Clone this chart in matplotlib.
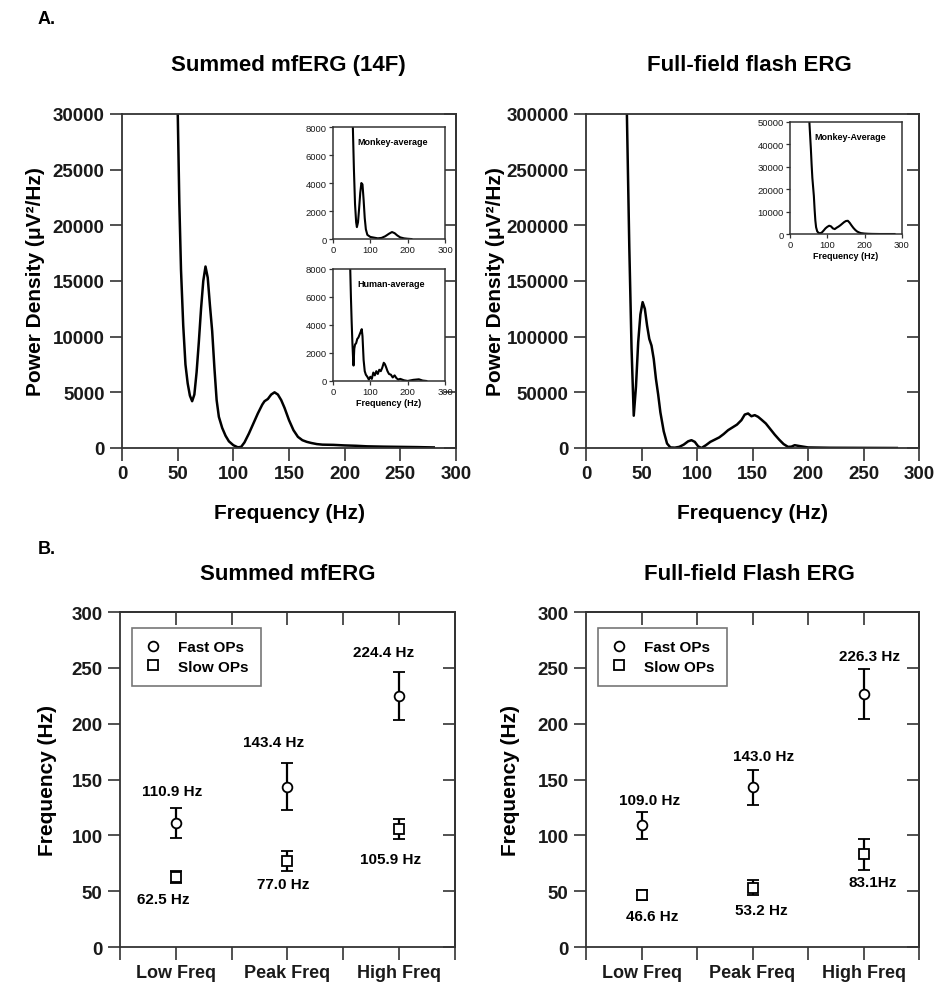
import matplotlib
matplotlib.use("Agg")
import matplotlib.pyplot as plt
from matplotlib.lines import Line2D

plt.rcParams['font.family'] = ['Liberation Sans', 'DejaVu Sans']
plt.rcParams['font.weight'] = 'bold'
plt.rcParams['axes.labelweight'] = 'bold'

# --- panel A: power spectra ---
mf_freq = [48, 50, 51.5, 53, 55, 57, 59, 61, 63, 65, 67, 69, 71, 73, 75, 77, 79, 81, 83, 85, 87, 90,
           93, 96, 100, 104, 107, 110, 114, 118, 122, 126, 128, 131, 134, 137, 140, 143, 146, 150,
           154, 158, 162, 166, 170, 175, 180, 190, 200, 210, 220, 235, 250, 265, 280]
mf_power = [45000, 30500, 22000, 16000, 11000, 7500, 5800, 4700, 4200, 4800, 6800, 9500, 12500, 15000,
            16300, 15300, 12800, 10500, 7200, 4300, 2800, 1800, 1100, 600, 250, 60, 100, 500, 1300,
            2200, 3100, 3900, 4200, 4400, 4800, 5000, 4800, 4300, 3600, 2500, 1600, 1000, 700, 550,
            450, 350, 300, 280, 230, 200, 150, 120, 100, 80, 50]

ff_freq = [35, 36.5, 37, 39, 41, 43, 45, 47, 49, 51, 53, 55, 57, 59, 61, 63, 65, 67, 70, 73, 76, 80,
           84, 88, 92, 95, 98, 101, 104, 108, 112, 116, 120, 124, 128, 132, 136, 140, 143, 146, 149,
           152, 155, 158, 162, 166, 170, 174, 178, 182, 185, 188, 192, 200, 220, 250, 280]
ff_power = [400000, 320000, 290000, 180000, 90000, 29000, 55000, 95000, 120000, 131000, 125000, 110000,
            98000, 92000, 80000, 62000, 48000, 32000, 15000, 4000, 500, 300, 1000, 3000, 6000, 7000,
            5500, 1500, 0, 2500, 5500, 7500, 9500, 12500, 16000, 18500, 21000, 25000, 30000, 31000,
            28500, 29500, 28000, 25500, 22000, 17000, 12000, 7500, 3500, 1000, 1200, 2500, 1800, 500,
            200, 100, 0]

mk_freq = [50, 53, 56, 59, 62, 64, 67, 70, 73, 76, 79, 82, 85, 88, 92, 100, 110, 120, 130, 140, 150,
           158, 165, 172, 180, 190, 200, 210]
mk_power = [12000, 8200, 5000, 2500, 1200, 850, 1200, 2200, 3300, 4000, 3900, 2800, 1500, 700, 300,
            150, 100, 50, 80, 200, 380, 500, 420, 260, 120, 50, 20, 0]

hu_freq = [44, 46, 48, 50, 52, 54, 55, 57, 59, 62, 65, 68, 71, 74, 77, 79, 82, 85, 88, 92, 96, 100,
           104, 108, 112, 116, 120, 124, 128, 132, 136, 139, 142, 146, 150, 155, 160, 165, 170, 175,
           180, 190, 200, 215, 230, 240, 250]
hu_power = [12000, 8200, 6000, 4200, 2700, 1500, 1100, 2300, 2600, 2700, 3000, 3100, 3300, 3500, 3700,
            3200, 1500, 700, 450, 300, 100, 300, 150, 600, 400, 700, 500, 800, 700, 950, 1300, 1200,
            1000, 700, 500, 450, 250, 400, 200, 100, 150, 50, 0, 80, 120, 30, 0]

fm_freq = [50, 52, 54, 56, 58, 60, 62, 64, 66, 68, 70, 73, 76, 80, 85, 90, 95, 100, 105, 110, 115,
           120, 125, 130, 135, 140, 145, 150, 155, 160, 165, 170, 175, 180, 185, 190, 200, 210, 220,
           240, 260, 280]
fm_power = [60000, 50000, 44000, 38000, 31000, 25000, 21000, 17000, 11000, 6000, 3000, 1200, 600, 300,
            600, 1500, 2500, 3200, 3700, 3400, 2500, 2200, 2800, 3300, 3900, 4600, 5300, 5800, 5900,
            5000, 3800, 2700, 1800, 1100, 700, 400, 200, 100, 50, 0, 0, 0]

# --- panel B: OP frequencies ---
categories = ['Low Freq', 'Peak Freq', 'High Freq']
mf_fast = [110.9, 143.4, 224.4]
mf_fast_err = [13.5, 21, 21.5]
mf_slow = [62.5, 77.0, 105.9]
mf_slow_err = [5.5, 9, 9]
ff_fast = [109.0, 143.0, 226.3]
ff_fast_err = [12, 15.5, 22.5]
ff_slow = [46.6, 53.2, 83.1]
ff_slow_err = [4.5, 7, 14]
mf_fast_lbl = ['110.9 Hz', '143.4 Hz', '224.4 Hz']
mf_slow_lbl = ['62.5 Hz', '77.0 Hz', '105.9 Hz']
ff_fast_lbl = ['109.0 Hz', '143.0 Hz', '226.3 Hz']
ff_slow_lbl = ['46.6 Hz', '53.2 Hz', '83.1Hz']

SPINE = '#333333'
fig = plt.figure(figsize=(9.42, 9.87), dpi=100)


def style(ax, xt, yt, length=9, fs=13.5):
    for s in ax.spines.values():
        s.set_color(SPINE)
        s.set_linewidth(1.3)
    ax.set_xticks(xt)
    ax.set_yticks(yt)
    ax.tick_params(direction='out', length=length, width=1.2, colors=SPINE,
                   labelcolor='#1a1a1a', labelsize=fs, top=False, right=False)
    sec = ax.secondary_yaxis('right')
    sec.set_yticks(yt)
    sec.tick_params(direction='in', length=length, width=1.2, colors=SPINE, labelright=False)
    sec.spines['right'].set_color(SPINE)
    sec.spines['right'].set_linewidth(1.3)
    return sec


def spectrum(rect, f, p, ymax, yt, ylabel_x):
    ax = fig.add_axes(rect)
    ax.plot(f, p, color='black', lw=1.8)
    ax.set_xlim(0, 300)
    ax.set_ylim(0, ymax)
    style(ax, range(0, 301, 50), yt)
    ax.set_xlabel('Frequency (Hz)', fontsize=15, labelpad=15)
    ax.set_ylabel('Power Density (μV²/Hz)', fontsize=15)
    ax.yaxis.set_label_coords(ylabel_x, 0.5)
    return ax


def inset(rect, f, p, ymax, yt, name, xlabel=False):
    ax = fig.add_axes(rect)
    ax.plot(f, p, color='black', lw=1.5)
    ax.set_xlim(0, 300)
    ax.set_ylim(0, ymax)
    ax.set_xticks([0, 100, 200, 300])
    ax.set_yticks(yt)
    for s in ax.spines.values():
        s.set_color(SPINE)
        s.set_linewidth(1.1)
    ax.tick_params(direction='out', length=3, width=0.9, labelsize=6.8, pad=1.5, colors=SPINE,
                   labelcolor='#1a1a1a')
    for lab in ax.get_xticklabels() + ax.get_yticklabels():
        lab.set_fontweight('normal')
    ax.text(0.22, 0.87, name, transform=ax.transAxes, fontsize=6.5, va='center')
    if xlabel:
        ax.set_xlabel('Frequency (Hz)', fontsize=6.5, labelpad=1.5)
    return ax


spectrum([0.1295, 0.5451, 0.3546, 0.3384], mf_freq, mf_power, 30000,
         range(0, 30001, 5000), -0.23)
spectrum([0.6221, 0.5451, 0.3535, 0.3384], ff_freq, ff_power, 300000,
         range(0, 300001, 50000), -0.243)
inset([0.3535, 0.7568, 0.1189, 0.1135], mk_freq, mk_power, 8000, range(0, 8001, 2000),
      'Monkey-average')
inset([0.3535, 0.6130, 0.1189, 0.1135], hu_freq, hu_power, 8000, range(0, 8001, 2000),
      'Human-average', xlabel=True)
inset([0.8386, 0.7619, 0.1189, 0.1135], fm_freq, fm_power, 50000, range(0, 50001, 10000),
      'Monkey-Average', xlabel=True)

fig.text(0.040, 0.980, 'A.', fontsize=13, va='center')
fig.text(0.040, 0.443, 'B.', fontsize=13, va='center')
fig.text(0.306, 0.934, 'Summed mfERG (14F)', fontsize=16, ha='center', va='center')
fig.text(0.796, 0.934, 'Full-field flash ERG', fontsize=16, ha='center', va='center')
fig.text(0.305, 0.418, 'Summed mfERG', fontsize=16, ha='center', va='center')
fig.text(0.796, 0.418, 'Full-field Flash ERG', fontsize=16, ha='center', va='center')


def op_panel(rect, fast, fast_err, slow, slow_err, fast_lbl, slow_lbl, fast_off, slow_off,
             ylabel_x):
    ax = fig.add_axes(rect)
    pos = [1, 2, 3]
    ax.errorbar(pos, fast, yerr=fast_err, fmt='o', ms=7, mfc='white', mec='black', mew=1.3,
                ecolor='black', elinewidth=1.6, capsize=4, capthick=1.4)
    ax.errorbar(pos, slow, yerr=slow_err, fmt='s', ms=6.5, mfc='white', mec='black', mew=1.3,
                ecolor='black', elinewidth=1.6, capsize=4, capthick=1.4)
    for x, y, t, o in zip(pos, fast, fast_lbl, fast_off):
        ax.annotate(t, (x, y), xytext=o, textcoords='offset pixels', ha='center', va='center',
                    fontsize=11)
    for x, y, t, o in zip(pos, slow, slow_lbl, slow_off):
        ax.annotate(t, (x, y), xytext=o, textcoords='offset pixels', ha='center', va='center',
                    fontsize=11)
    ax.set_xlim(0.5, 3.5)
    ax.set_ylim(0, 300)
    style(ax, [0.5, 1, 1.5, 2, 2.5, 3, 3.5], range(0, 301, 50))
    sec = ax.secondary_xaxis('top')
    sec.set_xticks([1, 1.5, 2, 2.5, 3])
    sec.tick_params(direction='in', length=9, width=1.2, colors=SPINE, labeltop=False)
    sec.spines['top'].set_color(SPINE)
    sec.spines['top'].set_linewidth(1.3)
    ax.set_xticklabels(['', categories[0], '', categories[1], '', categories[2], ''], fontsize=13)
    ax.tick_params(axis='x', pad=3)
    ax.set_ylabel('Frequency (Hz)', fontsize=15)
    ax.yaxis.set_label_coords(ylabel_x, 0.5)
    handles = [Line2D([], [], marker='o', ls='none', ms=7, mfc='white', mec='black', mew=1.3),
               Line2D([], [], marker='s', ls='none', ms=6.5, mfc='white', mec='black', mew=1.3)]
    leg = ax.legend(handles, ['Fast OPs', 'Slow OPs'], loc='upper left',
                    bbox_to_anchor=(0.036, 0.952), borderaxespad=0, fancybox=False,
                    fontsize=11, handlelength=1.2, handletextpad=1.0, borderpad=0.8,
                    labelspacing=0.35, edgecolor='#777777', framealpha=1)
    leg.get_frame().set_linewidth(1.2)
    return ax


op_panel([0.1274, 0.0395, 0.3556, 0.3394], mf_fast, mf_fast_err, mf_slow, mf_slow_err,
         mf_fast_lbl, mf_slow_lbl, [(-4, 32), (-14, 45), (-16, 44)],
         [(-13, -22), (-4, -23), (-9, -30)], -0.188)
op_panel([0.6221, 0.0395, 0.3535, 0.3394], ff_fast, ff_fast_err, ff_slow, ff_slow_err,
         ff_fast_lbl, ff_slow_lbl, [(8, 25), (11, 31), (6, 38)],
         [(11, -21), (9, -22), (9, -28)], -0.198)

fig.savefig('out.png', dpi=100)
